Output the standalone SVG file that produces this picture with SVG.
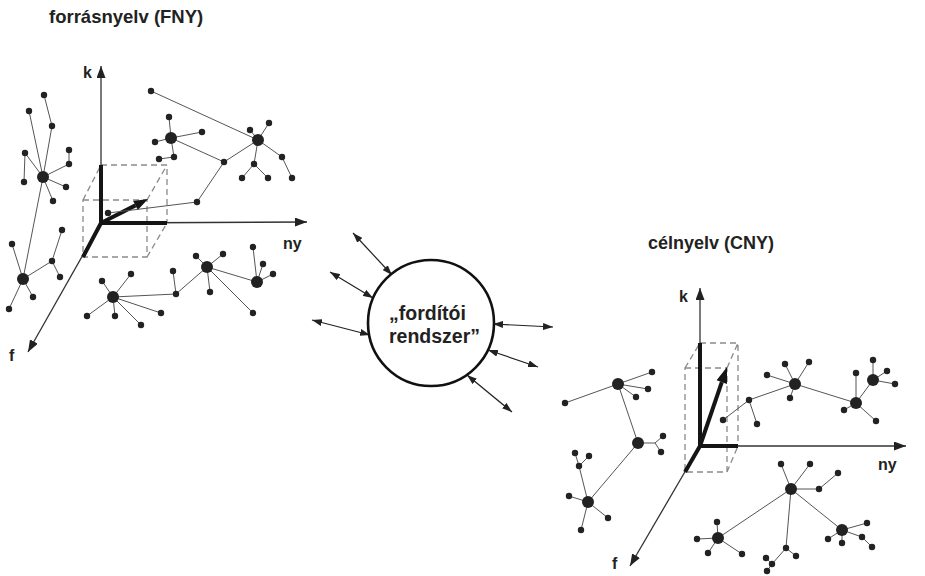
<svg xmlns="http://www.w3.org/2000/svg" width="925" height="576" viewBox="0 0 925 576">
<defs>
<style>
.lbl{font-family:"Liberation Sans",Arial,sans-serif;font-weight:bold;fill:#222}
.ax{stroke:#333;stroke-width:1.3;fill:none}
.thk{stroke:#151515;stroke-width:4;fill:none;stroke-linecap:butt}
.dsh{stroke:#8a8a8a;stroke-width:1.3;fill:none;stroke-dasharray:6 4}
.ln{stroke:#555;stroke-width:1;fill:none}
.dot{fill:#222}
.dbl{stroke:#222;stroke-width:1.2;fill:none;marker-start:url(#ah2);marker-end:url(#ah2)}
</style>
<marker id="ah" viewBox="0 0 12 9" refX="12" refY="4.5" markerWidth="12" markerHeight="9" markerUnits="userSpaceOnUse" orient="auto"><path d="M0,0 L12,4.5 L0,9 z" fill="#222"/></marker>
<marker id="ah2" viewBox="0 0 10 7" refX="10" refY="3.5" markerWidth="10" markerHeight="7" markerUnits="userSpaceOnUse" orient="auto-start-reverse"><path d="M0,0 L10,3.5 L0,7 z" fill="#222"/></marker>
</defs>
<rect width="925" height="576" fill="#fff"/>

<text class="lbl" x="49" y="23" font-size="18.5">forrásnyelv (FNY)</text>
<text class="lbl" x="648" y="249" font-size="18">célnyelv (CNY)</text>

<!-- left coordinate system -->
<g id="axes-left">
<path class="dsh" d="M83,200 H147 V257 H83 Z M101,165 H167 V223 M83,200 L101,165 M147,200 L167,165 M147,257 L167,223"/>
<line class="ax" x1="101" y1="223" x2="101" y2="66" marker-end="url(#ah)"/>
<line class="ax" x1="101" y1="223" x2="307" y2="222" marker-end="url(#ah)"/>
<line class="ax" x1="101" y1="223" x2="28" y2="352" marker-end="url(#ah)"/>
<path class="thk" d="M101,225 V165 M99,223 H167 M101,223 L83,257"/>
<line class="thk" x1="101" y1="223" x2="135.5" y2="205.4"/>
<polygon points="148,199 137.8,209.9 133.2,200.9" fill="#151515"/>
<text class="lbl" x="83" y="78" font-size="16">k</text>
<text class="lbl" x="283" y="249" font-size="16">ny</text>
<text class="lbl" x="9" y="361" font-size="16">f</text>
</g>

<!-- right coordinate system -->
<g id="axes-right">
<path class="dsh" d="M685,368 H727 V472 H685 Z M700,343 H738 V446 M685,368 L700,343 M727,368 L738,343 M727,472 L738,446"/>
<line class="ax" x1="700" y1="446" x2="700" y2="288" marker-end="url(#ah)"/>
<line class="ax" x1="700" y1="446" x2="906" y2="446" marker-end="url(#ah)"/>
<line class="ax" x1="700" y1="446" x2="630" y2="566" marker-end="url(#ah)"/>
<path class="thk" d="M700,448 V343 M698,446 H738 M700,446 L685,472"/>
<line class="thk" x1="700" y1="446" x2="721.8" y2="382.1"/>
<polygon points="727,367 727,383.9 716.6,380.3" fill="#151515"/>
<text class="lbl" x="679" y="302" font-size="16">k</text>
<text class="lbl" x="878" y="470" font-size="16">ny</text>
<text class="lbl" x="612" y="569" font-size="16">f</text>
</g>

<!-- left network -->
<g id="net-left">
<path class="ln" d="M44,95 L52,126 L43,177 M29,111 L43,177 M25,153 L43,177 M25,153 L24,182 M43,177 L69,164 L69,150 M43,177 L66,187 M43,177 L53,201 M43,177 L23,279
M23,279 L12,244 M23,279 L9,309 M23,279 L33,297 M23,279 L52,261 L62,230 M52,261 L60,277
M113,297 L102,281 M113,297 L131,274 M113,297 L87,316 M113,297 L115,316 M113,297 L141,325 M113,297 L161,313 M113,297 L176,294 L173,271 M176,294 L207,267
M207,267 L196,256 M207,267 L223,254 M207,267 L210,292 M207,267 L253,313 M207,267 L257,282
M257,282 L253,247 M257,282 L263,264 M257,282 L273,274
M151,91 L258,140
M171,138 L169,117 M171,138 L202,132 M171,138 L155,142 M171,138 L174,157 L159,159 M171,138 L224,162 L258,140 M224,162 L197,202 L108,213
M258,140 L250,130 M258,140 L269,123 M258,140 L254,164 L242,178 M254,164 L268,178 M258,140 L282,157 L292,178"/>
<g class="dot">
<circle cx="43" cy="177" r="6"/><circle cx="23" cy="279" r="6"/><circle cx="113" cy="297" r="6"/><circle cx="207" cy="267" r="6"/><circle cx="257" cy="282" r="6"/><circle cx="171" cy="138" r="6"/><circle cx="258" cy="140" r="6"/>
<circle cx="44" cy="95" r="3.2"/><circle cx="52" cy="126" r="3.2"/><circle cx="29" cy="111" r="3.2"/><circle cx="25" cy="153" r="3.2"/><circle cx="24" cy="182" r="3.2"/><circle cx="69" cy="164" r="3.2"/><circle cx="69" cy="150" r="3.2"/><circle cx="66" cy="187" r="3.2"/><circle cx="53" cy="201" r="3.2"/>
<circle cx="12" cy="244" r="3.2"/><circle cx="9" cy="309" r="3.2"/><circle cx="33" cy="297" r="3.2"/><circle cx="52" cy="261" r="3.2"/><circle cx="62" cy="230" r="3.2"/><circle cx="60" cy="277" r="3.2"/>
<circle cx="102" cy="281" r="3.2"/><circle cx="131" cy="274" r="3.2"/><circle cx="87" cy="316" r="3.2"/><circle cx="115" cy="316" r="3.2"/><circle cx="141" cy="325" r="3.2"/><circle cx="161" cy="313" r="3.2"/><circle cx="176" cy="294" r="3.2"/><circle cx="173" cy="271" r="3.2"/>
<circle cx="196" cy="256" r="3.2"/><circle cx="223" cy="254" r="3.2"/><circle cx="210" cy="292" r="3.2"/><circle cx="253" cy="313" r="3.2"/>
<circle cx="253" cy="247" r="3.2"/><circle cx="263" cy="264" r="3.2"/><circle cx="273" cy="274" r="3.2"/>
<circle cx="151" cy="91" r="3.2"/><circle cx="169" cy="117" r="3.2"/><circle cx="202" cy="132" r="3.2"/><circle cx="155" cy="142" r="3.2"/><circle cx="174" cy="157" r="3.2"/><circle cx="159" cy="159" r="3.2"/><circle cx="224" cy="162" r="3.2"/><circle cx="197" cy="202" r="3.2"/><circle cx="108" cy="213" r="3.2"/>
<circle cx="250" cy="130" r="3.2"/><circle cx="269" cy="123" r="3.2"/><circle cx="254" cy="164" r="3.2"/><circle cx="242" cy="178" r="3.2"/><circle cx="268" cy="178" r="3.2"/><circle cx="282" cy="157" r="3.2"/><circle cx="292" cy="178" r="3.2"/>
</g>
</g>

<!-- right network -->
<g id="net-right">
<path class="ln" d="M618,384 L565,403 M618,384 L652,372 M618,384 L648,389 M618,384 L636,397 M618,384 L638,443
M638,443 L655,443 L663,436 M655,443 L661,452 M638,443 L588,502
M588,502 L569,496 M588,502 L608,518 M588,502 L581,530 M588,502 L579,466 L575,453 M579,466 L589,456
M723,420 L749,400 L757,424 M749,400 L795,384
M795,384 L767,375 M795,384 L785,364 M795,384 L809,362 M795,384 L790,398 M795,384 L856,403
M856,403 L844,410 M856,403 L876,421 M856,403 L856,373 M856,403 L873,380
M873,380 L873,360 M873,380 L887,371 M873,380 L895,384
M791,489 L781,464 M791,489 L810,464 M791,489 L819,489 L838,473 M791,489 L718,538 M791,489 L786,548 M791,489 L842,530
M718,538 L717,522 M718,538 L697,539 M718,538 L708,553 M718,538 L742,554
M786,548 L796,556 M786,548 L772,564 L766,558 M772,564 L767,571
M842,530 L867,523 M842,530 L862,537 L872,547 M842,530 L842,543 M842,530 L828,539"/>
<g class="dot">
<circle cx="618" cy="384" r="6"/><circle cx="638" cy="443" r="6"/><circle cx="588" cy="502" r="6"/><circle cx="795" cy="384" r="6"/><circle cx="856" cy="403" r="6"/><circle cx="873" cy="380" r="6"/><circle cx="791" cy="489" r="6"/><circle cx="718" cy="538" r="6"/><circle cx="842" cy="530" r="6"/>
<circle cx="565" cy="403" r="3.2"/><circle cx="652" cy="372" r="3.2"/><circle cx="648" cy="389" r="3.2"/><circle cx="636" cy="397" r="3.2"/>
<circle cx="663" cy="436" r="3.2"/><circle cx="661" cy="452" r="3.2"/>
<circle cx="569" cy="496" r="3.2"/><circle cx="608" cy="518" r="3.2"/><circle cx="581" cy="530" r="3.2"/><circle cx="579" cy="466" r="3.2"/><circle cx="575" cy="453" r="3.2"/><circle cx="589" cy="456" r="3.2"/>
<circle cx="723" cy="420" r="3.2"/><circle cx="749" cy="400" r="3.2"/><circle cx="757" cy="424" r="3.2"/>
<circle cx="767" cy="375" r="3.2"/><circle cx="785" cy="364" r="3.2"/><circle cx="809" cy="362" r="3.2"/><circle cx="790" cy="398" r="3.2"/>
<circle cx="844" cy="410" r="3.2"/><circle cx="876" cy="421" r="3.2"/><circle cx="856" cy="373" r="3.2"/>
<circle cx="873" cy="360" r="3.2"/><circle cx="887" cy="371" r="3.2"/><circle cx="895" cy="384" r="3.2"/>
<circle cx="781" cy="464" r="3.2"/><circle cx="810" cy="464" r="3.2"/><circle cx="819" cy="489" r="3.2"/><circle cx="838" cy="473" r="3.2"/>
<circle cx="717" cy="522" r="3.2"/><circle cx="697" cy="539" r="3.2"/><circle cx="708" cy="553" r="3.2"/><circle cx="742" cy="554" r="3.2"/>
<circle cx="786" cy="548" r="3.2"/><circle cx="796" cy="556" r="3.2"/><circle cx="772" cy="564" r="3.2"/><circle cx="766" cy="558" r="3.2"/><circle cx="767" cy="571" r="3.2"/>
<circle cx="867" cy="523" r="3.2"/><circle cx="862" cy="537" r="3.2"/><circle cx="872" cy="547" r="3.2"/><circle cx="842" cy="543" r="3.2"/><circle cx="828" cy="539" r="3.2"/>
</g>
</g>

<!-- connectors -->
<g id="connectors">
<line class="dbl" x1="353" y1="233" x2="392" y2="275"/>
<line class="dbl" x1="330" y1="272" x2="373" y2="298"/>
<line class="dbl" x1="312" y1="320" x2="370" y2="335"/>
<line class="dbl" x1="493" y1="324" x2="553" y2="327"/>
<line class="dbl" x1="488" y1="350" x2="538" y2="367"/>
<line class="dbl" x1="467" y1="375" x2="512" y2="412"/>
</g>

<!-- central node -->
<g id="node-forditoi-rendszer">
<circle cx="431" cy="323" r="63" fill="#fff" stroke="#111" stroke-width="2.6"/>
<text class="lbl" x="389" y="320" font-size="19.5">„fordítói</text>
<text class="lbl" x="389" y="343" font-size="19.5">rendszer”</text>
</g>
</svg>
